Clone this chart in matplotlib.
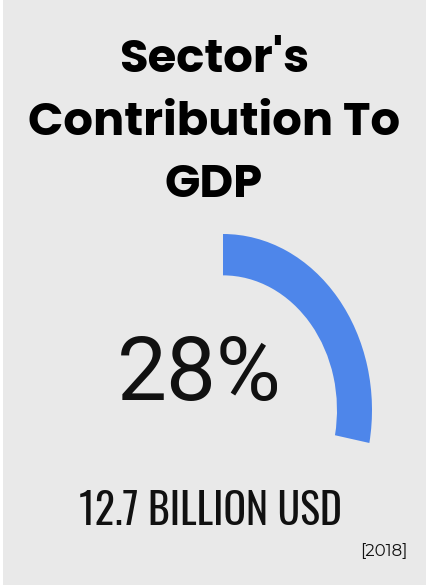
import matplotlib.pyplot as plt
from matplotlib.patches import Rectangle

# data
title_lines = ["Sector's", "Contribution To", "GDP"]
share = 28
value_label = "12.7 BILLION USD"
year_label = "[2018]"
gauge_color = "#4e86ea"

W, H = 429, 585
fig = plt.figure(figsize=(W / 100, H / 100), dpi=100)
fig.patch.set_facecolor("white")
fig.patches.append(Rectangle((3 / W, 0), (W - 6) / W, 1, transform=fig.transFigure,
                             facecolor="#e9e9e9", edgecolor="none", zorder=-5))

def fy(py):
    return 1 - py / H

# title
for line, base in zip(title_lines, [72, 135, 197]):
    fig.text(214 / W, fy(base), line, ha="center", va="baseline",
             fontsize=33.5, fontweight="bold", family=["Poppins", "DejaVu Sans"], color="black")

# gauge (stretched vertically like the original)
ax = fig.add_axes([74 / W, fy(586), 298 / W, 352 / H])
ax.pie([share, 100 - share], colors=[gauge_color, "none"], startangle=90,
       counterclock=False, radius=1, wedgeprops=dict(width=0.235, edgecolor="none"))
ax.set_aspect("auto")
ax.set_xlim(-1, 1)
ax.set_ylim(-1, 1)
ax.axis("off")

fig.text(199 / W, fy(400), f"{share}%", ha="center", va="baseline",
         fontsize=64, family=["Roboto", "DejaVu Sans"], color="#111111")

fig.text(210 / W, fy(525), value_label, ha="center", va="baseline",
         fontsize=30, family=["Oswald", "DejaVu Sans"], color="#111111")

fig.text(408 / W, fy(556), year_label, ha="right", va="baseline",
         fontsize=12, family=["Montserrat Alternates", "DejaVu Sans"], color="#111111")

fig.savefig("out.png", dpi=100, facecolor=fig.get_facecolor())
